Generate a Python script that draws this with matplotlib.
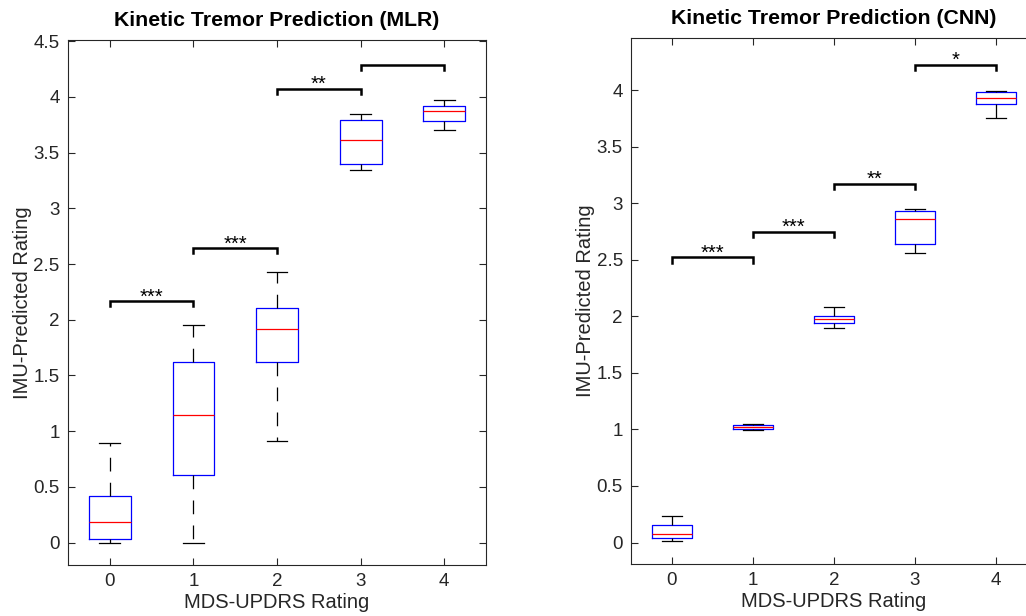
import numpy as np
import matplotlib
matplotlib.use("Agg")
import matplotlib.pyplot as plt
from matplotlib.ticker import FuncFormatter

plt.rcParams['font.family'] = ['Liberation Sans', 'DejaVu Sans']

ratings = [0, 1, 2, 3, 4]

# box statistics: lower whisker, q1, median, q3, upper whisker
mlr_low = [0.00, 0.00, 0.91, 3.34, 3.70]
mlr_q1 = [0.03, 0.605, 1.62, 3.40, 3.785]
mlr_med = [0.19, 1.15, 1.92, 3.61, 3.87]
mlr_q3 = [0.42, 1.62, 2.105, 3.79, 3.92]
mlr_high = [0.89, 1.95, 2.43, 3.85, 3.97]

cnn_low = [0.015, 0.994, 1.90, 2.56, 3.75]
cnn_q1 = [0.04, 1.005, 1.94, 2.64, 3.88]
cnn_med = [0.073, 1.023, 1.98, 2.863, 3.93]
cnn_q3 = [0.153, 1.035, 2.00, 2.93, 3.98]
cnn_high = [0.23, 1.052, 2.08, 2.95, 3.99]

# significance brackets: (from, to, height, stars)
mlr_sig = [(0, 1, 2.165, '***'), (1, 2, 2.64, '***'), (2, 3, 4.07, '**'), (3, 4, 4.29, '')]
cnn_sig = [(0, 1, 2.52, '***'), (1, 2, 2.745, '***'), (2, 3, 3.17, '**'), (3, 4, 4.22, '*')]

dark = '#262626'


def draw_panel(ax, low, q1, med, q3, high, sig, title, ylim, yticks):
    stats = []
    for i in range(len(ratings)):
        stats.append(dict(whislo=low[i], q1=q1[i], med=med[i], q3=q3[i], whishi=high[i], fliers=[]))
    ax.bxp(stats, positions=ratings, widths=0.5, capwidths=0.25, showfliers=False,
           boxprops=dict(color='#0000ff', lw=0.9),
           medianprops=dict(color='#ff0000', lw=0.9),
           whiskerprops=dict(color='black', lw=0.9, linestyle=(0, (11, 9))),
           capprops=dict(color='black', lw=0.9))
    for a, b, h, s in sig:
        ax.plot([a, a, b, b], [h - 0.045, h, h, h - 0.045], color='black', lw=1.8,
                solid_joinstyle='miter', clip_on=False)
        if s:
            ax.text((a + b) / 2, h - 0.01, s, ha='center', va='baseline', fontsize=14.5)
    ax.set_xlim(-0.5, 4.5)
    ax.set_ylim(*ylim)
    ax.set_xticks(ratings)
    ax.set_yticks(yticks)
    ax.yaxis.set_major_formatter(FuncFormatter(lambda v, p: f"{v:g}"))
    ax.tick_params(direction='in', length=5, width=0.8, colors=dark, labelsize=13.5,
                   top=True, right=True, pad=6)
    for sp in ax.spines.values():
        sp.set_color(dark)
        sp.set_linewidth(0.8)
    ax.set_title(title, fontsize=15.3, fontweight='bold', pad=10)
    ax.set_xlabel('MDS-UPDRS Rating', fontsize=14.5, color=dark, labelpad=2)
    ax.set_ylabel('IMU-Predicted Rating', fontsize=14.5, color=dark, labelpad=1)


fig = plt.figure(figsize=(10.26, 6.16), dpi=100)
ax1 = fig.add_axes([0.0663, 0.0828, 0.4074, 0.8523])
ax2 = fig.add_axes([0.6153, 0.0844, 0.3949, 0.8539])

draw_panel(ax1, mlr_low, mlr_q1, mlr_med, mlr_q3, mlr_high, mlr_sig,
           'Kinetic Tremor Prediction (MLR)', (-0.2, 4.51), np.arange(0, 4.51, 0.5))
draw_panel(ax2, cnn_low, cnn_q1, cnn_med, cnn_q3, cnn_high, cnn_sig,
           'Kinetic Tremor Prediction (CNN)', (-0.19, 4.46), np.arange(0, 4.01, 0.5))

fig.savefig('out.png', dpi=100)
